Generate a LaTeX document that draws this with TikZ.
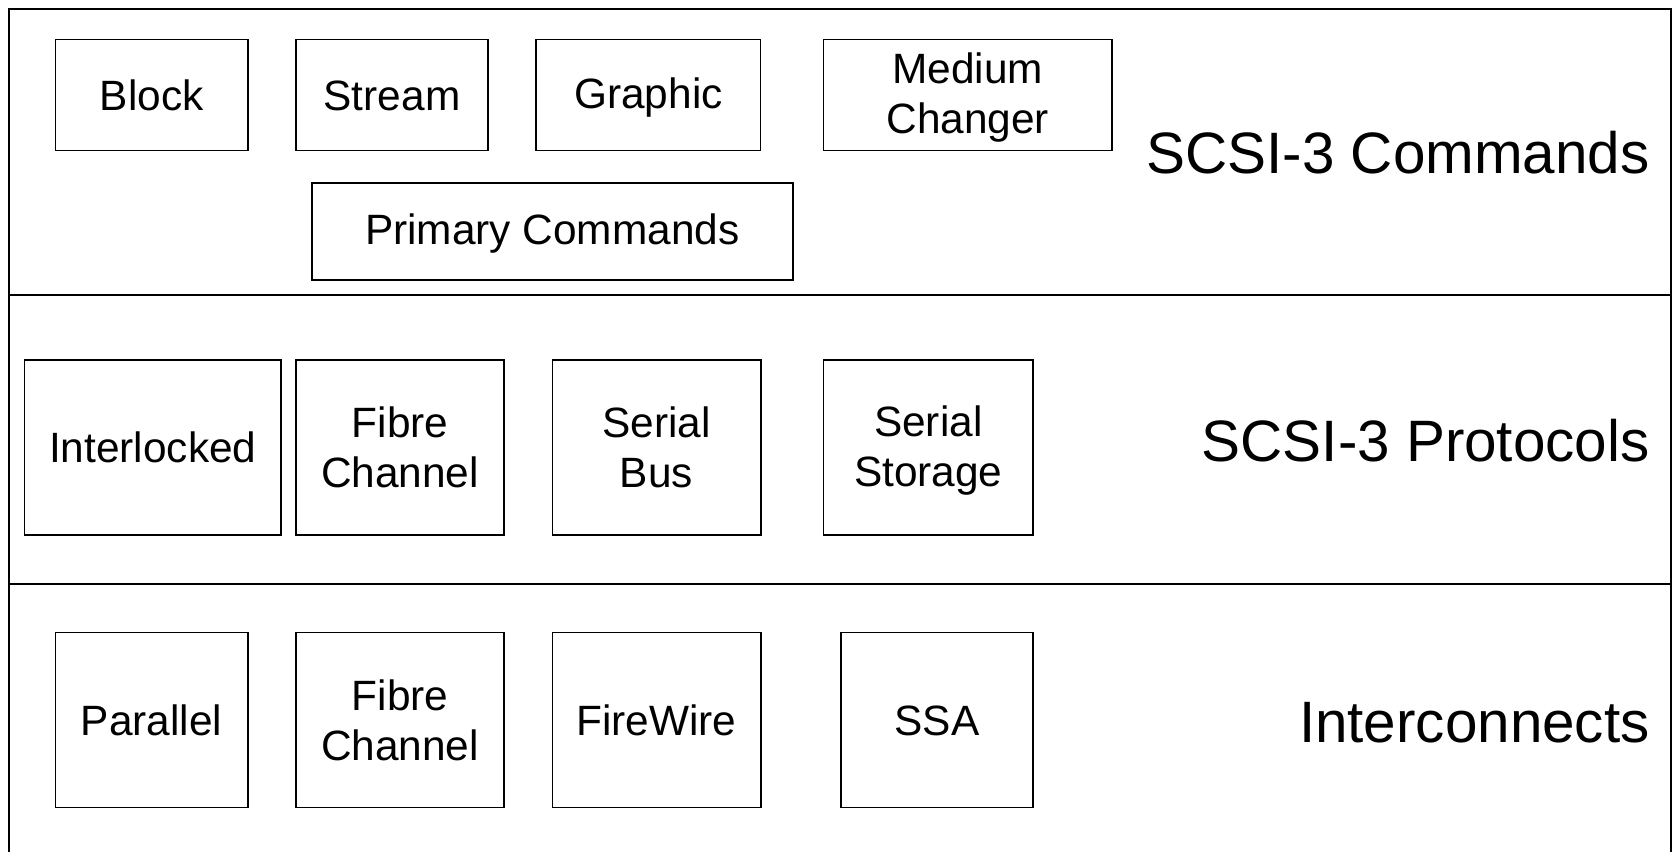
\documentclass[tikz,border=0pt]{standalone}
\usepackage{fontspec}
\setmainfont{Liberation Sans}
% strut centred on the capital height of the box font
\newcommand\capstrut{\rule[-2.8pt]{0pt}{20.8pt}}
\begin{document}
\begin{tikzpicture}[x=0.5pt,y=-0.5pt,
  layerline/.style={draw=black,line width=1pt},
  unit/.style={draw=black,line width=0.8pt,inner sep=0pt,outer sep=0pt,
    align=center,font=\fontsize{21.2}{25}\selectfont},
  layerlabel/.style={anchor=east,inner sep=0pt,font=\fontsize{29.2}{35}\selectfont}]
  \useasboundingbox (0,0) rectangle (1675,851);

  % outer frame (bottom edge runs off the page) and layer separators
  \draw[layerline] (8.5,870) -- (8.5,8.5) -- (1671,8.5) -- (1671,870);
  \coordinate (l1w) at (8.5,294.8);  \coordinate (l1e) at (1671,294.8);
  \coordinate (l2w) at (8.5,584.3);  \coordinate (l2e) at (1671,584.3);
  \draw[layerline] (l1w) -- (l1e);
  \draw[layerline] (l2w) -- (l2e);

  % command sets
  \node[unit,minimum width=96.2pt,minimum height=55.5pt] (block) at (151.6,95) {\capstrut Block};
  \node[unit,minimum width=96.2pt,minimum height=55.5pt] (stream) at (392,95) {\capstrut Stream};
  \node[unit,minimum width=112.2pt,minimum height=55.5pt] (graphic) at (648.4,95) {\capstrut Graphic};
  \node[unit,minimum width=144.2pt,minimum height=55.5pt] (medium) at (967.8,95) {\capstrut Medium\\\capstrut Changer};
  \node[unit,minimum width=240.4pt,minimum height=48.6pt] (primary) at (552.3,231.3) {\capstrut Primary Commands};
  \node[layerlabel] (cmdlabel) at (1650,153) {SCSI-3 Commands};

  % protocols
  \node[unit,minimum width=128.2pt,minimum height=87.6pt] (interlocked) at (152.8,447.6) {\capstrut Interlocked};
  \node[unit,minimum width=104.2pt,minimum height=87.6pt] (fcproto) at (400,447.6) {\capstrut Fibre\\\capstrut Channel};
  \node[unit,minimum width=104.2pt,minimum height=87.6pt] (serialbus) at (656.5,447.6) {\capstrut Serial\\\capstrut Bus};
  \node[unit,minimum width=104.7pt,minimum height=87.6pt] (serialstorage) at (928.3,447.6) {\capstrut Serial\\\capstrut Storage};
  \node[layerlabel] (protolabel) at (1650,441) {SCSI-3 Protocols};

  % interconnects
  \node[unit,minimum width=96.2pt,minimum height=87.6pt] (parallel) at (151.6,720) {\capstrut Parallel};
  \node[unit,minimum width=104.2pt,minimum height=87.6pt] (fclink) at (400,720) {\capstrut Fibre\\\capstrut Channel};
  \node[unit,minimum width=104.2pt,minimum height=87.6pt] (firewire) at (656.5,720) {\capstrut FireWire};
  \node[unit,minimum width=96.2pt,minimum height=87.6pt] (ssa) at (936.9,720) {\capstrut SSA};
  \node[layerlabel] (linklabel) at (1650,723) {Interconnects};
\end{tikzpicture}
\end{document}
